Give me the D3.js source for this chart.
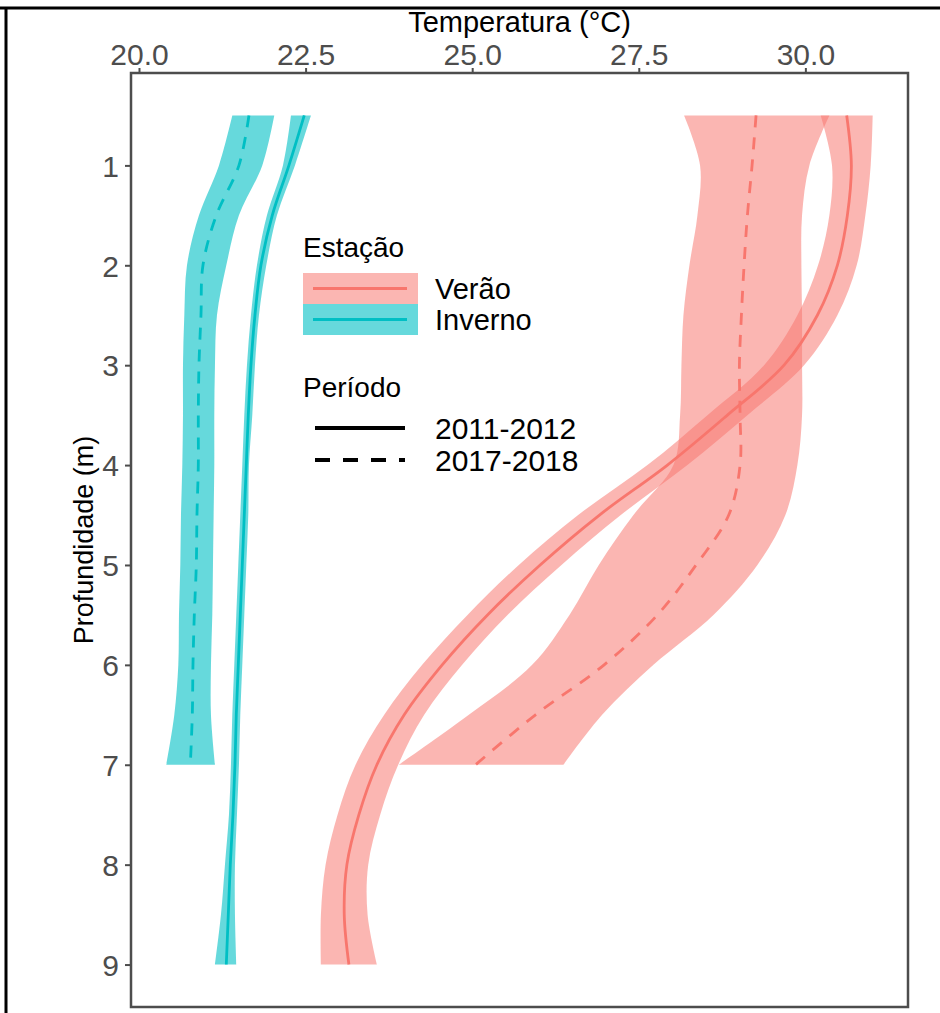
<!DOCTYPE html>
<html>
<head>
<meta charset="utf-8">
<title>Temperatura x Profundidade</title>
<script src="https://cdn.jsdelivr.net/npm/d3@7"></script>
<style>
    body { margin: 0; background: #fff; }
    svg { display: block; font-family: "Liberation Sans", Arial, sans-serif; }
</style>
</head>
<body>
<div id="chart"></div>
<script>
"use strict";

// depths (m)
var depths = [0.5, 1, 1.5, 2, 2.5, 3, 3.5, 4, 4.5, 5, 5.5, 6, 6.5, 7, 7.5, 8, 8.5, 9];
var depths2017 = [0.5, 1, 1.5, 2, 2.5, 3, 3.5, 4, 4.5, 5, 5.5, 6, 6.5, 7];

// Verão 2011-2012 (°C)
var verao2011 = [30.62, 30.69, 30.63, 30.48, 30.18, 29.68, 28.83, 27.93, 26.91, 26.02, 25.23, 24.55, 23.98, 23.57, 23.30, 23.12, 23.08, 23.15];
var verao2011Lo = [30.23, 30.40, 30.36, 30.19, 29.88, 29.38, 28.53, 27.63, 26.59, 25.70, 24.93, 24.25, 23.68, 23.25, 22.98, 22.80, 22.73, 22.73];
var verao2011Hi = [31.01, 30.98, 30.90, 30.77, 30.48, 29.98, 29.13, 28.23, 27.23, 26.34, 25.53, 24.85, 24.28, 23.89, 23.62, 23.44, 23.43, 23.57];

// Verão 2017-2018 (°C)
var verao2017 = [29.26, 29.20, 29.13, 29.08, 29.04, 29.01, 29.02, 29.02, 28.85, 28.36, 27.78, 26.98, 25.95, 25.05];
var verao2017Lo = [28.18, 28.42, 28.38, 28.26, 28.17, 28.14, 28.12, 28.02, 27.42, 26.90, 26.46, 25.90, 24.95, 23.90];
var verao2017Hi = [30.36, 30.06, 29.95, 29.94, 29.95, 29.95, 29.95, 29.88, 29.70, 29.28, 28.62, 27.72, 26.95, 26.37];

// Inverno 2011-2012 (°C)
var inverno2011 = [22.48, 22.25, 22.00, 21.83, 21.74, 21.68, 21.64, 21.61, 21.58, 21.55, 21.52, 21.49, 21.46, 21.44, 21.41, 21.37, 21.34, 21.31];
var inverno2011Lo = [22.28, 22.16, 21.92, 21.77, 21.68, 21.62, 21.58, 21.55, 21.52, 21.49, 21.46, 21.43, 21.40, 21.38, 21.35, 21.29, 21.23, 21.14];
var inverno2011Hi = [22.58, 22.34, 22.07, 21.91, 21.80, 21.74, 21.70, 21.65, 21.64, 21.61, 21.58, 21.55, 21.52, 21.50, 21.47, 21.44, 21.44, 21.46];

// Inverno 2017-2018 (°C)
var inverno2017 = [21.65, 21.50, 21.16, 20.96, 20.93, 20.90, 20.89, 20.89, 20.87, 20.86, 20.83, 20.81, 20.80, 20.77];
var inverno2017Lo = [21.40, 21.20, 20.90, 20.72, 20.68, 20.66, 20.66, 20.65, 20.63, 20.62, 20.60, 20.59, 20.53, 20.41];
var inverno2017Hi = [22.03, 21.85, 21.50, 21.31, 21.17, 21.14, 21.13, 21.13, 21.12, 21.11, 21.10, 21.08, 21.08, 21.14];

// axis ticks and legend entries
var xTicks = [20, 22.5, 25, 27.5, 30];
var yTicks = [1, 2, 3, 4, 5, 6, 7, 8, 9];
var seasons = ["Verão", "Inverno"];
var periods = ["2011-2012", "2017-2018"];

var w = 940;
var h = 1013;
var margin = {top: 73, right: 32, bottom: 6, left: 131};

var seasonColor = d3.scaleOrdinal().domain(seasons).range(["#F8766D", "#00BFC4"]);
var seasonAlpha = d3.scaleOrdinal().domain(seasons).range([0.53, 0.6]);
var periodDash = d3.scaleOrdinal().domain(periods).range(["none", "12,10"]);

//Build one record per profile
var series = [
    {season: "Verão", period: "2011-2012", depth: depths, mid: verao2011, lo: verao2011Lo, hi: verao2011Hi},
    {season: "Verão", period: "2017-2018", depth: depths2017, mid: verao2017, lo: verao2017Lo, hi: verao2017Hi},
    {season: "Inverno", period: "2011-2012", depth: depths, mid: inverno2011, lo: inverno2011Lo, hi: inverno2011Hi},
    {season: "Inverno", period: "2017-2018", depth: depths2017, mid: inverno2017, lo: inverno2017Lo, hi: inverno2017Hi}
];
series.forEach(function (s) {
    s.rows = s.depth.map(function (d, i) {
        return {depth: d, mid: s.mid[i], lo: s.lo[i], hi: s.hi[i]};
    });
});

//Scales with the usual 5% padding round the data
var allT = d3.merge(series.map(function (s) { return s.lo.concat(s.hi); }));
var tMin = d3.min(allT), tMax = d3.max(allT), tPad = (tMax - tMin) * 0.05;
var x = d3.scaleLinear()
    .domain([tMin - tPad, tMax + tPad])
    .range([margin.left, w - margin.right]);

var dMin = d3.min(depths), dMax = d3.max(depths), dPad = (dMax - dMin) * 0.05;
var y = d3.scaleLinear()
    .domain([dMin - dPad, dMax + dPad])
    .range([margin.top, h - margin.bottom]);

var svg = d3.select("#chart")
    .append("svg")
    .attr("width", w)
    .attr("height", h);

//Frame lines of the cropped page
svg.append("line").attr("x1", 0).attr("x2", w).attr("y1", 8).attr("y2", 8)
    .attr("stroke", "#000").attr("stroke-width", 3);
svg.append("line").attr("x1", 6).attr("x2", 6).attr("y1", 8).attr("y2", h)
    .attr("stroke", "#000").attr("stroke-width", 3);

var ribbon = d3.area()
    .curve(d3.curveCatmullRom.alpha(0.5))
    .y(function (d) { return y(d.depth); })
    .x0(function (d) { return x(d.lo); })
    .x1(function (d) { return x(d.hi); });

var line = d3.line()
    .curve(d3.curveCatmullRom.alpha(0.5))
    .y(function (d) { return y(d.depth); })
    .x(function (d) { return x(d.mid); });

//Ribbons first, lines on top
svg.append("g")
    .selectAll("path")
    .data(series)
    .enter()
    .append("path")
    .attr("d", function (s) { return ribbon(s.rows); })
    .attr("fill", function (s) { return seasonColor(s.season); })
    .attr("fill-opacity", function (s) { return seasonAlpha(s.season); });

svg.append("g")
    .selectAll("path")
    .data(series)
    .enter()
    .append("path")
    .attr("d", function (s) { return line(s.rows); })
    .attr("fill", "none")
    .attr("stroke", function (s) { return seasonColor(s.season); })
    .attr("stroke-width", 2.8)
    .attr("stroke-dasharray", function (s) { return periodDash(s.period); });

//Panel border
svg.append("rect")
    .attr("x", margin.left)
    .attr("y", margin.top)
    .attr("width", w - margin.left - margin.right)
    .attr("height", h - margin.top - margin.bottom)
    .attr("fill", "none")
    .attr("stroke", "#4d4d4d")
    .attr("stroke-width", 2.5);

//Axes
var xAxis = svg.append("g")
    .attr("transform", "translate(0," + margin.top + ")")
    .call(d3.axisTop(x).tickValues(xTicks).tickFormat(d3.format(".1f")).tickSize(5).tickPadding(3));

var yAxis = svg.append("g")
    .attr("transform", "translate(" + margin.left + ",0)")
    .call(d3.axisLeft(y).tickValues(yTicks).tickSize(6).tickPadding(6));

[xAxis, yAxis].forEach(function (g) {
    g.select(".domain").remove();
    g.selectAll(".tick line").attr("stroke", "#4d4d4d").attr("stroke-width", 2);
    g.selectAll(".tick text")
        .attr("fill", "#4d4d4d")
        .style("font-size", "30px")
        .style("font-family", "\"Liberation Sans\", Arial, sans-serif");
});
yAxis.selectAll(".tick text").attr("dy", "0.36em");

//Axis titles
svg.append("text")
    .attr("x", (margin.left + w - margin.right) / 2)
    .attr("y", 32)
    .attr("text-anchor", "middle")
    .style("font-size", "29px")
    .text("Temperatura (°C)");

svg.append("text")
    .attr("transform", "translate(93," + (margin.top + h - margin.bottom) / 2 + ") rotate(-90)")
    .attr("text-anchor", "middle")
    .style("font-size", "27px")
    .text("Profundidade (m)");

//Legend: Estação
var legend = svg.append("g").attr("transform", "translate(303,0)");

legend.append("text").attr("x", 0).attr("y", 257).style("font-size", "28px").text("Estação");

var keyH = 31;
var seasonKey = legend.selectAll(".season")
    .data(seasons)
    .enter()
    .append("g")
    .attr("transform", function (d, i) { return "translate(0," + (273 + i * keyH) + ")"; });

seasonKey.append("rect")
    .attr("width", 115)
    .attr("height", keyH)
    .attr("fill", function (d) { return seasonColor(d); })
    .attr("fill-opacity", function (d) { return seasonAlpha(d); });

seasonKey.append("line")
    .attr("x1", 10).attr("x2", 104)
    .attr("y1", keyH / 2).attr("y2", keyH / 2)
    .attr("stroke", function (d) { return seasonColor(d); })
    .attr("stroke-width", 2.8);

seasonKey.append("text")
    .attr("x", 132)
    .attr("y", keyH / 2 + 10)
    .style("font-size", "29px")
    .text(function (d) { return d; });

//Legend: Período
legend.append("text").attr("x", 0).attr("y", 397).style("font-size", "28px").text("Período");

var periodKey = legend.selectAll(".period")
    .data(periods)
    .enter()
    .append("g")
    .attr("transform", function (d, i) { return "translate(0," + (428 + i * 32) + ")"; });

periodKey.append("line")
    .attr("x1", 12).attr("x2", 102)
    .attr("stroke", "#000")
    .attr("stroke-width", 4)
    .attr("stroke-dasharray", function (d) { return periodDash(d) === "none" ? "none" : "15,13"; });

periodKey.append("text")
    .attr("x", 132)
    .attr("y", 11)
    .style("font-size", "30px")
    .text(function (d) { return d; });
</script>
</body>
</html>
